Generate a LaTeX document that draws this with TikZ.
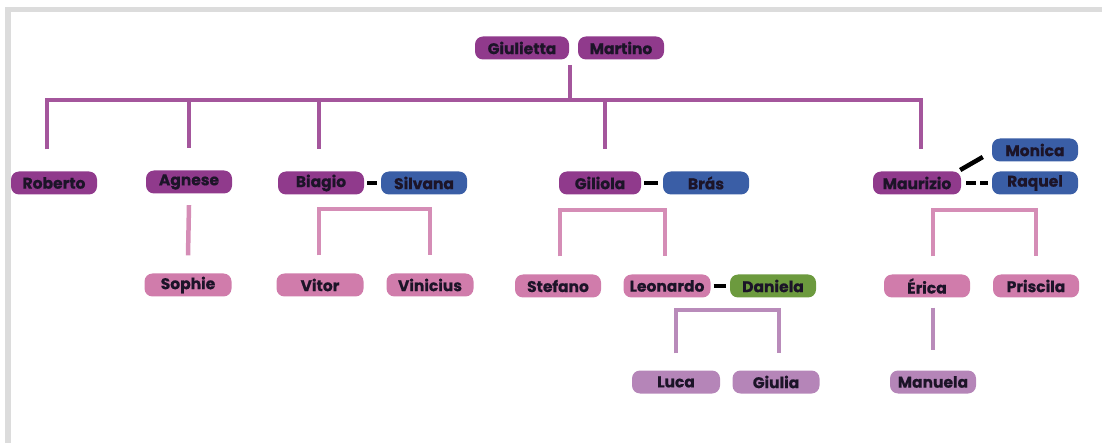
\documentclass[tikz,border=0pt]{standalone}
\usepackage{fontspec}
\setmainfont{Poppins}[BoldFeatures={FakeBold=0.6}]
\begin{document}
\begin{tikzpicture}[x=1pt,y=-1pt,
  person/.style={rounded corners=8pt, minimum width=86pt, minimum height=23pt, inner sep=0pt,
     font=\fontsize{15.5}{16}\selectfont\bfseries, text=txt},
  gen1/.style={person, fill=cgen1},
  blu/.style={person, fill=cblue},
  gen2/.style={person, fill=cgen2},
  gen3/.style={person, fill=cgen3},
  grn/.style={person, fill=cgreen},
  l1/.style={draw=lgen1, line width=4.5pt},
  l2/.style={draw=lgen2, line width=4.5pt},
  l3/.style={draw=lgen3, line width=4.5pt},
  mar/.style={draw=black, line width=4.5pt},
]
\definecolor{txt}{HTML}{1C1428}
\definecolor{cgen1}{HTML}{903A8C}
\definecolor{cblue}{HTML}{3A5EA6}
\definecolor{cgen2}{HTML}{D07CAB}
\definecolor{cgen3}{HTML}{B585B8}
\definecolor{cgreen}{HTML}{6C9A3E}
\definecolor{lgen1}{HTML}{A4569C}
\definecolor{lgen2}{HTML}{D58DB6}
\definecolor{lgen3}{HTML}{B98BBA}
\definecolor{frame}{HTML}{DCDCDC}
\useasboundingbox (0,0) rectangle (1102,443);
\fill[frame] (5,7) rectangle (1102,12);
\fill[frame] (5,7) rectangle (11,443);

% generation 0
\node[gen1, minimum width=94pt] (giu) at (522,48) {Giulietta};
\node[gen1] (mar) at (621,48) {Martino};

% generation 1
\node[gen1] (rob) at (54,183) {Roberto};
\node[gen1] (agn) at (189,182) {Agnese};
\node[gen1] (bia) at (321,183) {Biagio};
\node[blu] (sil) at (424,183) {Silvana};
\node[gen1, minimum width=82pt] (gil) at (600,183) {Giliola};
\node[blu] (bra) at (706,183) {Brás};
\node[gen1, minimum width=88pt] (mau) at (917,183) {Maurizio};
\node[blu] (raq) at (1035,183) {Raquel};
\node[blu] (mon) at (1035,150) {Monica};

% generation 2
\node[gen2, minimum width=87pt] (sop) at (188,285) {Sophie};
\node[gen2, minimum width=87pt] (vit) at (320,285) {Vitor};
\node[gen2, minimum width=87pt] (vin) at (430,285) {Vinicius};
\node[gen2] (ste) at (558,286) {Stefano};
\node[gen2, minimum width=87pt] (leo) at (667,286) {Leonardo};
\node[grn] (dan) at (773,286) {Daniela};
\node[gen2] (eri) at (927,286) {Érica};
\node[gen2] (pri) at (1036,286) {Priscila};

% generation 3
\node[gen3, minimum width=88pt] (luc) at (676,382) {Luca};
\node[gen3, minimum width=87pt] (giul) at (776,382) {Giulia};
\node[gen3] (man) at (933,382) {Manuela};

% parents to children
\coordinate (root) at (570,65);
\draw[l1] (root) -- (570,100);
\draw[l1] ([yshift=22pt]rob.north -| 47,0) -- (47,100) -- (921,100) -- ([yshift=22pt]mau.north -| 921,0);
\draw[l1] (189,100) -- ([yshift=22pt]agn.north);
\draw[l1] (319,100) -- ([yshift=22pt]bia.north -| 319,0);
\draw[l1] (605,100) -- ([yshift=22pt]gil.north -| 605,0);

% couples
\draw[mar, shorten <=3pt, shorten >=4pt] (bia.east) -- (sil.west);
\draw[mar, shorten <=3pt, shorten >=5pt] (gil.east) -- (bra.west);
\draw[mar, shorten <=3pt, shorten >=4pt] (leo.east) -- (dan.west);
\draw[mar, dash pattern=on 10pt off 4pt, shorten <=5pt, shorten >=4pt] (mau.east) -- (raq.west);
\draw[mar] ([xshift=-1pt,yshift=13pt]mau.east) -- ([xshift=-9pt,yshift=-7pt]mon.west);

% children brackets
\draw[l2] ([yshift=-11.5pt]agn.south) -- ([yshift=18pt]sop.north);
\draw[l2] ([yshift=18pt]vit.north -| 319,0) |- (430,209) -- ([yshift=18pt]vin.north);
\draw[l2] ([yshift=18pt]ste.north -| 560,0) |- (665,210) -- ([yshift=18pt]leo.north -| 665,0);
\draw[l2] ([yshift=18pt]eri.north -| 933,0) |- (1036,210) -- ([yshift=18pt]pri.north);
\draw[l3] ([yshift=17pt]luc.north) |- (779,310) -- ([yshift=17pt]giul.north -| 779,0);
\draw[l3] ([yshift=-10pt]eri.south -| 933,0) -- ([yshift=20pt]man.north);
\end{tikzpicture}
\end{document}
